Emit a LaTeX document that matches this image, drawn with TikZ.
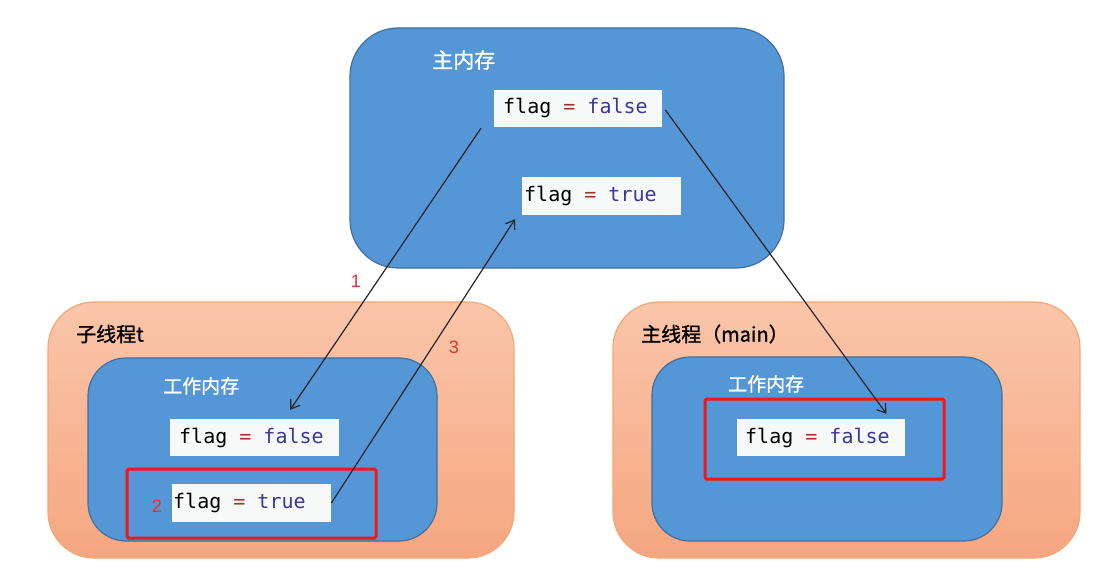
\documentclass[tikz,border=0pt]{standalone}
\usepackage{fontspec}
\setmainfont{Liberation Sans}
\newfontfamily\cjk[FakeBold=1]{Noto Sans CJK SC}
\newfontfamily\codefont{DejaVu Sans Mono}
\usetikzlibrary{arrows.meta,calc}
\definecolor{memblue}{HTML}{5496D6}
\definecolor{memborder}{HTML}{41719C}
\definecolor{orangetop}{HTML}{FAC6AA}
\definecolor{orangebot}{HTML}{F5A680}
\definecolor{orangeborder}{HTML}{F2A878}
\definecolor{codebg}{HTML}{F7F8F8}
\definecolor{eqred}{HTML}{A0352F}
\definecolor{kwblue}{HTML}{3A3898}
\definecolor{numred}{HTML}{E8322E}
\definecolor{boxred}{HTML}{F01818}
\newcommand{\csp}{\hspace{0.602em}}
\newcommand{\flagval}[1]{\codefont flag\csp\textcolor{eqred}{=}\csp\textcolor{kwblue}{#1}}
\begin{document}
\begin{tikzpicture}[x=1pt,y=-1pt,
  memory/.style={draw=memborder,line width=1.2pt,fill=memblue,rounded corners=48pt,inner sep=0pt},
  thread/.style={draw=orangeborder,line width=1.2pt,top color=orangetop,bottom color=orangebot,rounded corners=46pt,inner sep=0pt},
  workmem/.style={draw=memborder,line width=1.2pt,fill=memblue,rounded corners=38pt,inner sep=0pt},
  codebox/.style={fill=codebg,inner ysep=0pt,minimum height=37pt,align=left,font=\fontsize{20}{22}\selectfont,anchor=west},
  redbox/.style={draw=boxred,line width=3pt,rounded corners=1.5pt,inner sep=0pt},
  wlabel/.style={text=white,font=\cjk\fontsize{20}{24}\selectfont,anchor=west,inner sep=0pt},
  blabel/.style={text=black,font=\cjk\fontsize{20}{24}\selectfont,anchor=west,inner sep=0pt},
  numlabel/.style={text=numred,font=\fontsize{18}{20}\selectfont,inner sep=0pt},
  flow/.style={draw=black!85,line width=1.2pt,-{Straight Barb[length=8pt,width=11pt]}}]
\useasboundingbox (0,0) rectangle (1106,577);
\fill[white] (0,0) rectangle (1106,577);
% main memory
\node[memory,minimum width=434pt,minimum height=240pt] (main) at (567,148) {};
\node[wlabel,font=\cjk\fontsize{21}{24}\selectfont] (mainlbl) at (432,60) {主内存};
\node[codebox,inner xsep=9pt,text width=150pt] (mf) at (494,108.5) {\flagval{false}};
\node[codebox,inner xsep=2pt,text width=155pt,minimum height=38pt] (mt) at (522,196) {\flagval{true}};
% left thread
\node[thread,minimum width=466pt,minimum height=256pt] (lth) at (281,430) {};
\node[blabel] (lthlbl) at (76,334) {子线程t};
\node[workmem,minimum width=349pt,minimum height=183pt] (lwm) at (262.5,449.5) {};
\node[wlabel,font=\cjk\fontsize{19}{24}\selectfont] (lwmlbl) at (163,386) {工作内存};
\node[codebox,inner xsep=9pt,text width=151pt] (lf) at (170,437.5) {\flagval{false}};
\node[codebox,inner xsep=1pt,text width=157pt,minimum height=38pt] (lt) at (172,503) {\flagval{true}};
\node[redbox,minimum width=249pt,minimum height=69pt] (lred) at (251.5,503.5) {};
% right thread
\node[thread,minimum width=467pt,minimum height=256pt] (rth) at (846.5,430) {};
\node[blabel] (rthlbl) at (641,334) {主线程（main）};
\node[workmem,minimum width=350pt,minimum height=184pt] (rwm) at (827,449) {};
\node[wlabel,font=\cjk\fontsize{19}{24}\selectfont] (rwmlbl) at (728,384) {工作内存};
\node[codebox,inner xsep=8pt,text width=152pt] (rf) at (737,437.5) {\flagval{false}};
\node[redbox,minimum width=239pt,minimum height=80pt] (rred) at (824.5,439) {};
% arrows
\coordinate (a1s) at ($(mf.south west)+(-13,1)$);
\coordinate (a1e) at ($(lf.north)+(35.5,-9)$);
\coordinate (a2e) at ($(mt.south west)+(-7,4)$);
\coordinate (a3s) at ($(mf.east)+(3,1.5)$);
\coordinate (a3e) at ($(rf.north east)+(-19,-5)$);
\draw[flow] (a1s) -- (a1e);
\draw[flow] (lt.east) -- (a2e);
\draw[flow] (a3s) -- (a3e);
% step numbers
\node[numlabel] (n1) at (356,281) {1};
\node[numlabel] (n2) at (157,506) {2};
\node[numlabel] (n3) at (454,347) {3};
\end{tikzpicture}
\end{document}
